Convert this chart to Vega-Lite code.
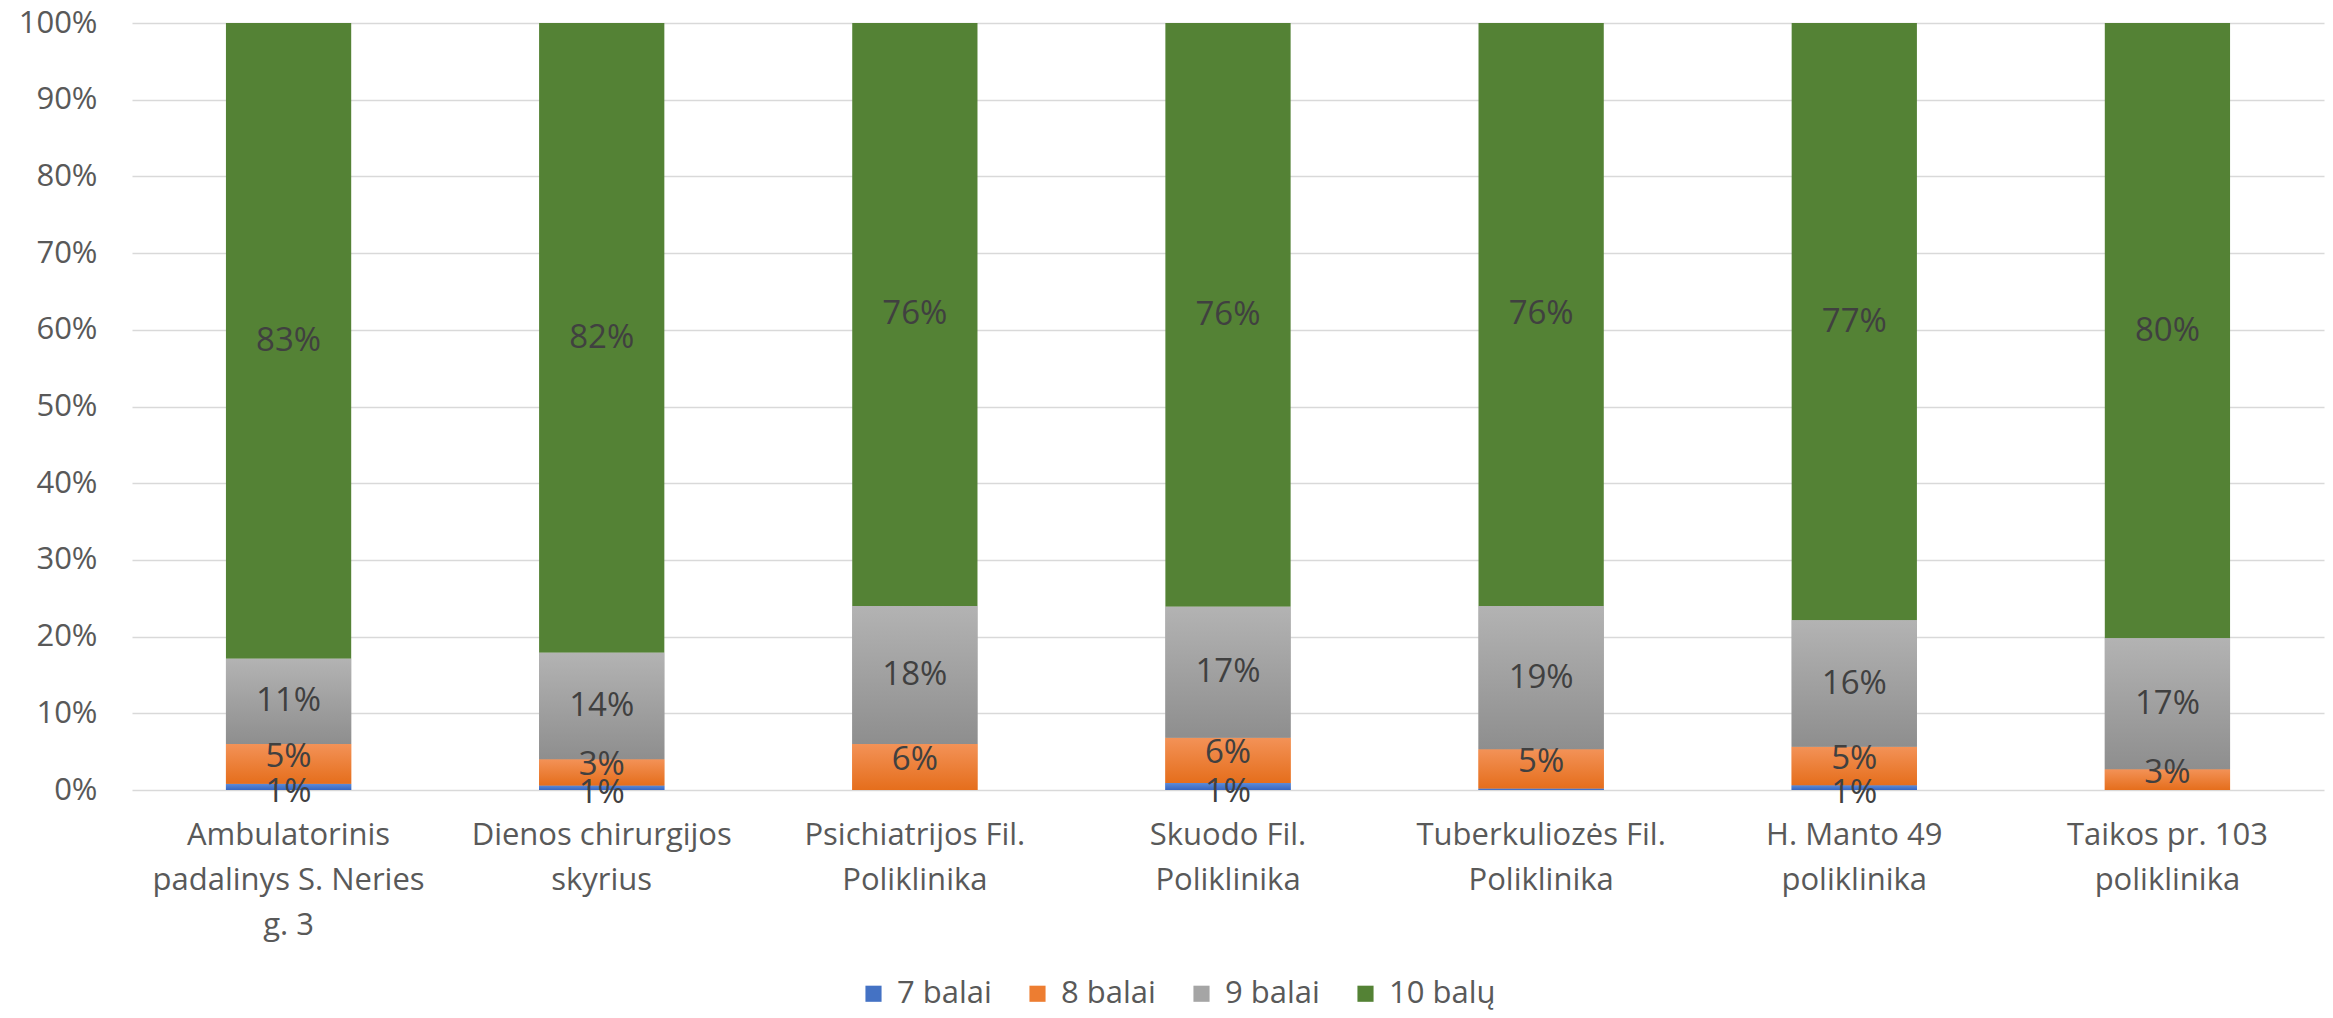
{
  "$schema": "https://vega.github.io/schema/vega-lite/v6.json",
  "width": 2192,
  "height": 767,
  "autosize": {"type": "none"},
  "padding": {"left": 132, "top": 23, "right": 9, "bottom": 228},
  "background": "white",
  "config": {"view": {"stroke": null}, "font": "Open Sans"},
  "data": {
    "values": [
      {"unit": "Ambulatorinis\npadalinys S. Neries\ng. 3", "series": "7 balai", "score": 7, "value": 0.008},
      {"unit": "Ambulatorinis\npadalinys S. Neries\ng. 3", "series": "8 balai", "score": 8, "value": 0.052},
      {"unit": "Ambulatorinis\npadalinys S. Neries\ng. 3", "series": "9 balai", "score": 9, "value": 0.111},
      {"unit": "Ambulatorinis\npadalinys S. Neries\ng. 3", "series": "10 balų", "score": 10, "value": 0.829},
      {"unit": "Dienos chirurgijos\nskyrius", "series": "7 balai", "score": 7, "value": 0.006},
      {"unit": "Dienos chirurgijos\nskyrius", "series": "8 balai", "score": 8, "value": 0.034},
      {"unit": "Dienos chirurgijos\nskyrius", "series": "9 balai", "score": 9, "value": 0.139},
      {"unit": "Dienos chirurgijos\nskyrius", "series": "10 balų", "score": 10, "value": 0.821},
      {"unit": "Psichiatrijos Fil.\nPoliklinika", "series": "7 balai", "score": 7, "value": 0.0},
      {"unit": "Psichiatrijos Fil.\nPoliklinika", "series": "8 balai", "score": 8, "value": 0.06},
      {"unit": "Psichiatrijos Fil.\nPoliklinika", "series": "9 balai", "score": 9, "value": 0.18},
      {"unit": "Psichiatrijos Fil.\nPoliklinika", "series": "10 balų", "score": 10, "value": 0.76},
      {"unit": "Skuodo Fil.\nPoliklinika", "series": "7 balai", "score": 7, "value": 0.009},
      {"unit": "Skuodo Fil.\nPoliklinika", "series": "8 balai", "score": 8, "value": 0.059},
      {"unit": "Skuodo Fil.\nPoliklinika", "series": "9 balai", "score": 9, "value": 0.171},
      {"unit": "Skuodo Fil.\nPoliklinika", "series": "10 balų", "score": 10, "value": 0.761},
      {"unit": "Tuberkuliozės Fil.\nPoliklinika", "series": "7 balai", "score": 7, "value": 0.002},
      {"unit": "Tuberkuliozės Fil.\nPoliklinika", "series": "8 balai", "score": 8, "value": 0.051},
      {"unit": "Tuberkuliozės Fil.\nPoliklinika", "series": "9 balai", "score": 9, "value": 0.187},
      {"unit": "Tuberkuliozės Fil.\nPoliklinika", "series": "10 balų", "score": 10, "value": 0.76},
      {"unit": "H. Manto 49\npoliklinika", "series": "7 balai", "score": 7, "value": 0.006},
      {"unit": "H. Manto 49\npoliklinika", "series": "8 balai", "score": 8, "value": 0.05},
      {"unit": "H. Manto 49\npoliklinika", "series": "9 balai", "score": 9, "value": 0.164},
      {"unit": "H. Manto 49\npoliklinika", "series": "10 balų", "score": 10, "value": 0.774},
      {"unit": "Taikos pr. 103\npoliklinika", "series": "7 balai", "score": 7, "value": 0.0},
      {"unit": "Taikos pr. 103\npoliklinika", "series": "8 balai", "score": 8, "value": 0.027},
      {"unit": "Taikos pr. 103\npoliklinika", "series": "9 balai", "score": 9, "value": 0.171},
      {"unit": "Taikos pr. 103\npoliklinika", "series": "10 balų", "score": 10, "value": 0.802}
    ]
  },
  "transform": [
    {"stack": "value", "groupby": ["unit"], "sort": [{"field": "score", "order": "ascending"}], "offset": "normalize", "as": ["v0", "v1"]},
    {"calculate": "(datum.v0 + datum.v1) / 2", "as": "mid"}
  ],
  "encoding": {
    "x": {
      "field": "unit",
      "type": "nominal",
      "sort": null,
      "scale": {"paddingInner": 0.6, "paddingOuter": 0.3},
      "axis": {
        "title": null,
        "labelAngle": 0,
        "labelFontSize": 31,
        "labelColor": "#595959",
        "labelPadding": 30,
        "labelLineHeight": 45,
        "labelLimit": 500,
        "domain": false,
        "ticks": false,
        "labelExpr": "split(datum.label, '\\n')"
      }
    }
  },
  "layer": [
    {
      "mark": {"type": "bar"},
      "encoding": {
        "y": {
          "field": "v0",
          "type": "quantitative",
          "scale": {"domain": [0, 1]},
          "axis": {
            "title": null,
            "format": ".0%",
            "values": [0, 0.1, 0.2, 0.3, 0.4, 0.5, 0.6, 0.7, 0.8, 0.9, 1],
            "grid": true,
            "gridColor": "#d9d9d9",
            "gridWidth": 1.6,
            "domain": false,
            "ticks": false,
            "labelFontSize": 31,
            "labelColor": "#595959",
            "labelPadding": 35
          }
        },
        "y2": {"field": "v1"},
        "color": {
          "field": "series",
          "type": "nominal",
          "sort": ["7 balai", "8 balai", "9 balai", "10 balų"],
          "scale": {
            "domain": ["7 balai", "8 balai", "9 balai", "10 balų"],
            "range": ["#4472c4", "#ed7d31", "#a5a5a5", "#548235"]
          },
          "legend": {
            "orient": "none",
            "legendX": 726,
            "legendY": 955,
            "direction": "horizontal",
            "title": null,
            "symbolType": "square",
            "symbolSize": 260,
            "symbolStrokeWidth": 0,
            "labelFontSize": 31,
            "labelColor": "#595959",
            "labelOffset": 8,
            "columnPadding": 30
          }
        }
      }
    },
    {
      "transform": [{"filter": "datum.score == 7"}],
      "mark": {"type": "bar", "fill": {"gradient": "linear", "x1": 0, "y1": 0, "x2": 0, "y2": 1, "stops": [{"offset": 0, "color": "#5b8ad8"}, {"offset": 1, "color": "#3766c0"}]}},
      "encoding": {"y": {"field": "v0", "type": "quantitative"}, "y2": {"field": "v1"}}
    },
    {
      "transform": [{"filter": "datum.score == 8"}],
      "mark": {"type": "bar", "fill": {"gradient": "linear", "x1": 0, "y1": 0, "x2": 0, "y2": 1, "stops": [{"offset": 0, "color": "#f39257"}, {"offset": 1, "color": "#e56e1c"}]}},
      "encoding": {"y": {"field": "v0", "type": "quantitative"}, "y2": {"field": "v1"}}
    },
    {
      "transform": [{"filter": "datum.score == 9"}],
      "mark": {"type": "bar", "fill": {"gradient": "linear", "x1": 0, "y1": 0, "x2": 0, "y2": 1, "stops": [{"offset": 0, "color": "#b3b3b3"}, {"offset": 1, "color": "#8e8e8e"}]}},
      "encoding": {"y": {"field": "v0", "type": "quantitative"}, "y2": {"field": "v1"}}
    },
    {
      "transform": [{"filter": "datum.value >= 0.004 && datum.score >= 9"}],
      "mark": {"type": "text", "fontSize": 33, "color": "#404040", "baseline": "middle"},
      "encoding": {
        "y": {"field": "mid", "type": "quantitative"},
        "text": {"field": "value", "type": "quantitative", "format": ".0%"}
      }
    },
    {
      "transform": [{"filter": "datum.value >= 0.004 && datum.score == 8"}],
      "mark": {"type": "text", "fontSize": 33, "color": "#404040", "baseline": "middle", "dy": -7},
      "encoding": {
        "y": {"field": "mid", "type": "quantitative"},
        "text": {"field": "value", "type": "quantitative", "format": ".0%"}
      }
    },
    {
      "transform": [{"filter": "datum.value >= 0.004 && datum.score == 7"}],
      "mark": {"type": "text", "fontSize": 33, "color": "#404040", "baseline": "middle", "dy": 5},
      "encoding": {
        "y": {"field": "mid", "type": "quantitative"},
        "text": {"field": "value", "type": "quantitative", "format": ".0%"}
      }
    }
  ]
}
